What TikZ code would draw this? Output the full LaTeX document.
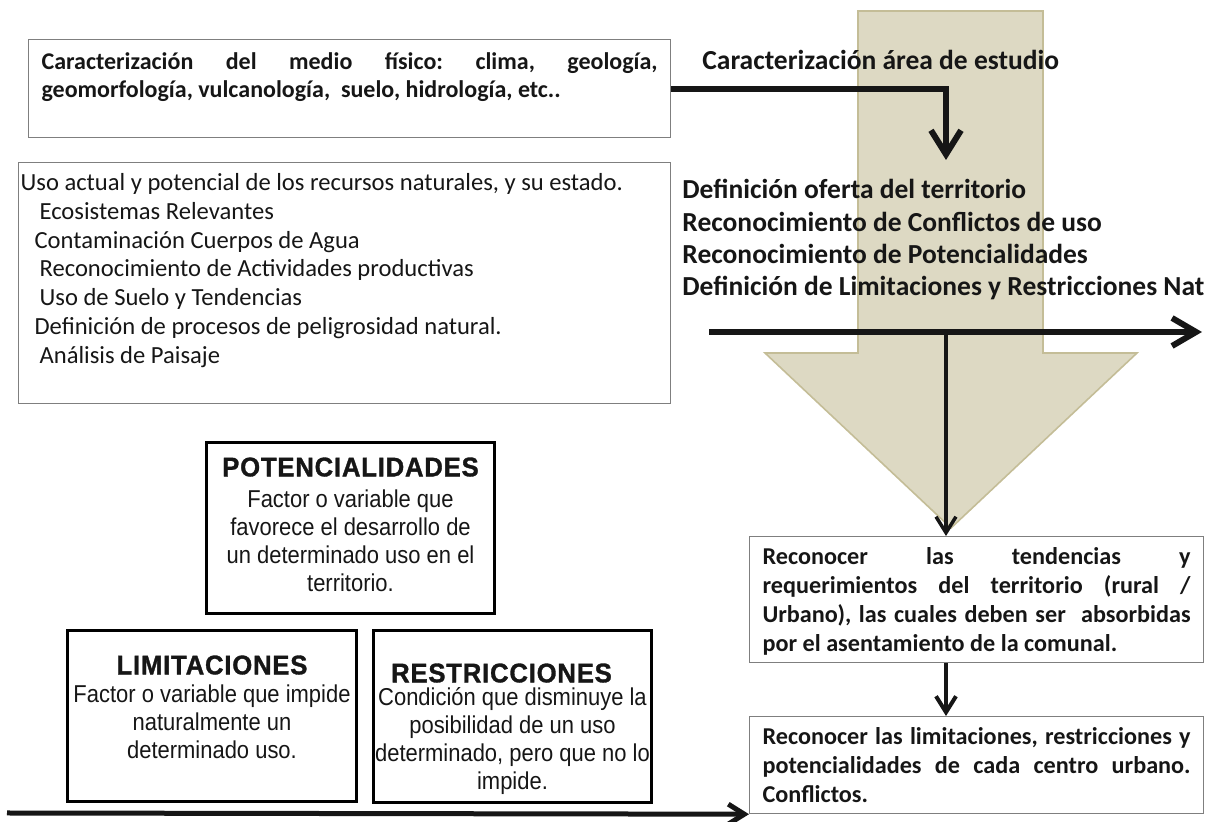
\documentclass[tikz,border=0pt]{standalone}
\usepackage{fontspec}
\setmainfont{Carlito}
\newfontfamily\arialfont[FakeStretch=0.9]{Liberation Sans}
\newfontfamily\titlefont[FakeStretch=0.95,LetterSpace=3,FakeBold=1.2]{Liberation Sans}
\usetikzlibrary{arrows.meta,positioning}

\definecolor{arrowfill}{HTML}{DDD9C3}
\definecolor{arrowline}{HTML}{C4BD97}
\definecolor{boxline}{HTML}{7F7F7F}
\definecolor{ink}{HTML}{161616}

% text kept at the top of a box of fixed height
\def\toptext#1#2#3{\parbox[c][#1][t]{#2}{\frenchspacing #3}}
\def\boxtitle#1{{\titlefont\bfseries\fontsize{13.5}{14}\selectfont #1}}

\tikzset{
  graybox/.style={draw=boxline, line width=0.6pt, anchor=north west, text=ink},
  blackbox/.style={draw=black, line width=1.5pt, anchor=north west, inner xsep=0pt, text=ink,
    font=\arialfont\fontsize{12.2}{14}\selectfont},
  thickflow/.style={draw=ink, line width=3pt, -{Straight Barb[length=12pt,width=15pt]}},
  thinflow/.style={draw=ink, line width=#1, -{Straight Barb[length=8pt,width=10pt]}},
}

\begin{document}
\begin{tikzpicture}[x=0.5pt,y=-0.5pt]
  \useasboundingbox (0,0) rectangle (1228,822);

  % big arrow behind everything
  \filldraw[fill=arrowfill, draw=arrowline, line width=0.8pt]
    (858,11) -- (1043,11) -- (1043,353) -- (1137,353) -- (951,528)
    -- (765,353) -- (858,353) -- cycle;

  % left column
  \node[graybox, inner xsep=6.5pt, inner ysep=6.4pt, font=\bfseries\fontsize{12}{14}\selectfont] (medio) at (28,39)
    {\toptext{36.2pt}{308pt}{Caracterización del medio físico: clima, geología,\linebreak
     geomorfología, vulcanología,~ suelo, hidrología, etc..}};
  \node[graybox, inner xsep=1pt, inner ysep=5.6pt, font=\fontsize{12.3}{14.35}\selectfont] (recursos) at (18,162)
    {\toptext{109.3pt}{324pt}{\raggedright
     Uso actual y potencial de los recursos naturales, y su estado.\\
     \hspace*{9.5pt}Ecosistemas Relevantes\\
     \hspace*{7pt}Contaminación Cuerpos de Agua\\
     \hspace*{9.5pt}Reconocimiento de Actividades productivas\\
     \hspace*{9.5pt}Uso de Suelo y Tendencias\\
     \hspace*{7pt}Definición de procesos de peligrosidad natural.\\
     \hspace*{9.5pt}Análisis de Paisaje}};

  % right column
  \node[anchor=base west, inner sep=0pt, text=ink, font=\bfseries\fontsize{13.75}{16.2}\selectfont] (estudio) at (702,69.5)
    {Caracterización área de estudio};
  \node[anchor=north west, inner sep=0pt, align=left, text=ink, font=\bfseries\fontsize{13.75}{16.2}\selectfont] (oferta) at (682,179)
    {Definición oferta del territorio\\
     Reconocimiento de Conflictos de uso\\
     Reconocimiento de Potencialidades\\
     Definición de Limitaciones y Restricciones Nat};
  \node[graybox, inner xsep=6.5pt, inner ysep=5.7pt, font=\bfseries\fontsize{12.1}{14.35}\selectfont] (tend) at (749,536)
    {\toptext{51.6pt}{214pt}{Reconocer las tendencias y\linebreak
     requerimientos del territorio (rural /\linebreak
     Urbano), las cuales deben ser~ absorbidas\linebreak
     por el asentamiento de la comunal.}};
  \node[graybox, inner xsep=6.5pt, inner ysep=5.7pt, font=\bfseries\fontsize{12.1}{14.35}\selectfont] (centro) at (749,716)
    {\toptext{37.1pt}{214pt}{Reconocer las limitaciones, restricciones y\linebreak
     potencialidades de cada centro urbano.\linebreak
     Conflictos.}};

  % lower boxes
  \node[blackbox, inner ysep=7.5pt] (pot) at (205,441)
    {\toptext{70.5pt}{144pt}{\centering \boxtitle{POTENCIALIDADES}\\[1.75pt]
     Factor o variable que\\ favorece el desarrollo de\\ un determinado uso en el\\ territorio.}};
  \node[blackbox, inner ysep=12.5pt] (lim) at (66,629)
    {\toptext{60.5pt}{144.5pt}{\centering \boxtitle{LIMITACIONES}\\
     Factor o variable que impide\\ naturalmente un\\ determinado uso.}};
  \node[blackbox, inner ysep=16.5pt] (restr) at (372,629)
    {\toptext{53pt}{139pt}{\centering \boxtitle{RESTRICCIONES}\hspace{11pt}\mbox{}\\[-2.25pt]
     Condición que disminuye la\\ posibilidad de un uso\\ determinado, pero que no lo\\ impide.}};

  % connectors
  \coordinate (entry) at (946,160);
  \draw[thickflow] (medio.east) -| (entry);
  \coordinate (hstart) at (709,332);
  \coordinate (hend) at (1202,332);
  \draw[thickflow, -{Straight Barb[length=12pt,width=14pt]}] (hstart) -- (hend);
  \coordinate (split) at (946,332);
  \draw[thinflow=1.75pt] (split) -- (split |- tend.north);
  \draw[thinflow=2pt] (split |- tend.south) -- (split |- centro.north);
  \coordinate (bstart) at (7,813);
  \draw[thinflow=2.5pt] (bstart) -- (centro.south west);
\end{tikzpicture}
\end{document}
